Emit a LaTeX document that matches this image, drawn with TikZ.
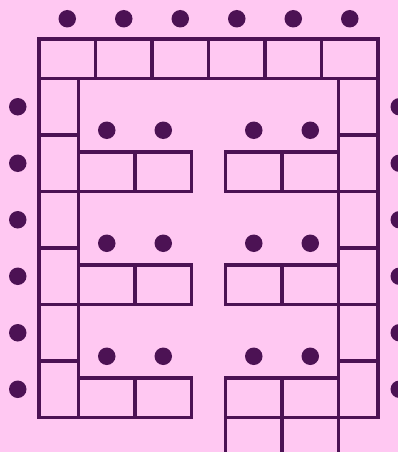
\documentclass[tikz,border=0pt]{standalone}
\usepackage{tikz}
\usetikzlibrary{positioning}
\usepackage{xcolor}

\definecolor{bgpink}{RGB}{255,200,242}
\definecolor{plum}{RGB}{76,18,84}

\begin{document}
\begin{tikzpicture}[
    x=1pt, y=-1pt,
    node distance=0pt,
    hbox/.style={rectangle, draw=plum, line width=3.2pt, minimum width=56.5pt, minimum height=39.5pt, inner sep=0pt, outer sep=0pt},
    vbox/.style={rectangle, draw=plum, line width=3.2pt, minimum width=39.5pt, minimum height=56.5pt, inner sep=0pt, outer sep=0pt},
    dot/.style={circle, fill=plum, minimum size=17.5pt, inner sep=0pt, outer sep=0pt},
]

\useasboundingbox (0,0) rectangle (398,452);
\clip (0,0) rectangle (398,452);
\fill[bgpink] (0,0) rectangle (398,452);

% top row
\node[hbox] (t1) at (67.25,58.75) {};
\node[hbox, right=of t1] (t2) {};
\node[hbox, right=of t2] (t3) {};
\node[hbox, right=of t3] (t4) {};
\node[hbox, right=of t4] (t5) {};
\node[hbox, right=of t5] (t6) {};

% left and right columns
\node[vbox, anchor=north west] (l1) at (t1.south west) {};
\node[vbox, below=of l1] (l2) {};
\node[vbox, below=of l2] (l3) {};
\node[vbox, below=of l3] (l4) {};
\node[vbox, below=of l4] (l5) {};
\node[vbox, below=of l5] (l6) {};

\node[vbox, anchor=north east] (r1) at (t6.south east) {};
\node[vbox, below=of r1] (r2) {};
\node[vbox, below=of r2] (r3) {};
\node[vbox, below=of r3] (r4) {};
\node[vbox, below=of r4] (r5) {};
\node[vbox, below=of r5] (r6) {};

% inner rows, left side
\node[hbox, anchor=south west] (a1) at (l2.south east) {};
\node[hbox, right=of a1] (a2) {};
\node[hbox, anchor=south west] (b1) at (l4.south east) {};
\node[hbox, right=of b1] (b2) {};
\node[hbox, anchor=south west] (c1) at (l6.south east) {};
\node[hbox, right=of c1] (c2) {};

% inner rows, right side
\node[hbox, anchor=south east] (p2) at (r2.south west) {};
\node[hbox, left=of p2] (p1) {};
\node[hbox, anchor=south east] (q2) at (r4.south west) {};
\node[hbox, left=of q2] (q1) {};
\node[hbox, anchor=south east] (s2) at (r6.south west) {};
\node[hbox, left=of s2] (s1) {};
\node[hbox, below=of s1] (u1) {};
\node[hbox, below=of s2] (u2) {};

% dots
\node[dot, above=11.5pt of t1] (dt1) {};
\node[dot, above=11.5pt of t2] (dt2) {};
\node[dot, above=11.5pt of t3] (dt3) {};
\node[dot, above=11.5pt of t4] (dt4) {};
\node[dot, above=11.5pt of t5] (dt5) {};
\node[dot, above=11.5pt of t6] (dt6) {};

\node[dot, left=12.5pt of l1] (dl1) {};
\node[dot, left=12.5pt of l2] (dl2) {};
\node[dot, left=12.5pt of l3] (dl3) {};
\node[dot, left=12.5pt of l4] (dl4) {};
\node[dot, left=12.5pt of l5] (dl5) {};
\node[dot, left=12.5pt of l6] (dl6) {};

\node[dot, right=12.5pt of r1] (dr1) {};
\node[dot, right=12.5pt of r2] (dr2) {};
\node[dot, right=12.5pt of r3] (dr3) {};
\node[dot, right=12.5pt of r4] (dr4) {};
\node[dot, right=12.5pt of r5] (dr5) {};
\node[dot, right=12.5pt of r6] (dr6) {};

\node[dot, above=13pt of a1] (da1) {};
\node[dot, above=13pt of a2] (da2) {};
\node[dot, above=13pt of b1] (db1) {};
\node[dot, above=13pt of b2] (db2) {};
\node[dot, above=13pt of c1] (dc1) {};
\node[dot, above=13pt of c2] (dc2) {};
\node[dot, above=13pt of p1] (dp1) {};
\node[dot, above=13pt of p2] (dp2) {};
\node[dot, above=13pt of q1] (dq1) {};
\node[dot, above=13pt of q2] (dq2) {};
\node[dot, above=13pt of s1] (ds1) {};
\node[dot, above=13pt of s2] (ds2) {};

\end{tikzpicture}
\end{document}
